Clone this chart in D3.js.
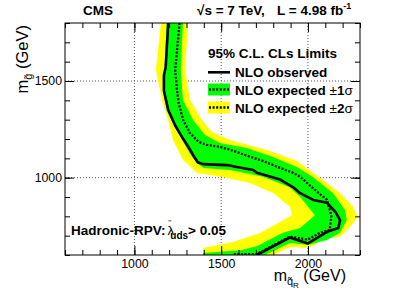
<!DOCTYPE html>
<html>
<head>
<meta charset="utf-8">
<script src="https://cdn.jsdelivr.net/npm/d3@7"></script>
<style>
  body { margin: 0; background: #fff; }
  text { font-family: "Liberation Sans", Arial, Helvetica, sans-serif; }
</style>
</head>
<body>
<script>
// axis ranges and ticks (GeV)
const xDomain = [600, 2300];
const yDomain = [600, 1800];
const xMajor = [1000, 1500, 2000];
const yMajor = [1000, 1500];

// observed limit (squark mass, gluino mass)
const obsSquark = [1195, 1180, 1170, 1170, 1195, 1235, 1275, 1310, 1340, 1365, 1395, 1535, 1590, 1685, 1705, 1840, 1915, 1955, 2030, 2110, 2160, 2185, 2175, 2110, 2000, 1895, 1705];
const obsGluino = [1800, 1570, 1530, 1450, 1350, 1270, 1210, 1160, 1115, 1080, 1070, 1065, 1055, 1040, 1025, 990, 950, 920, 885, 870, 820, 780, 740, 720, 660, 690, 600];

// expected limit
const expSquark = [1260, 1235, 1245, 1255, 1280, 1320, 1370, 1415, 1485, 1550, 1645, 1745, 1840, 1915, 1955, 2010, 2110, 2135, 2125, 2070, 2000, 1895, 1705, 1570];
const expGluino = [1800, 1555, 1455, 1385, 1300, 1230, 1185, 1170, 1160, 1145, 1115, 1085, 1050, 1025, 1005, 960, 885, 800, 730, 715, 680, 695, 605, 605];

// +-1 sigma band: outer edge top->bottom, inner edge bottom->top
const sig1OutSquark = [1280, 1267, 1280, 1338, 1407, 1493, 1649, 1799, 1937, 2028, 2144, 2213, 2224, 2184, 2109, 2000, 1897, 1753];
const sig1OutGluino = [1800, 1557, 1402, 1298, 1221, 1179, 1153, 1107, 1055, 1003, 921, 833, 781, 714, 678, 652, 662, 600];
const sig1InSquark = [1395, 1395, 1610, 1705, 1855, 1955, 2040, 1955, 1895, 1740, 1550, 1400, 1360, 1330, 1300, 1265, 1225, 1185, 1165, 1165, 1175, 1185];
const sig1InGluino = [600, 610, 625, 645, 715, 740, 805, 900, 950, 1005, 1040, 1050, 1075, 1110, 1155, 1210, 1275, 1350, 1450, 1530, 1570, 1800];

// +-2 sigma band
const sig2OutSquark = [1309, 1292, 1320, 1390, 1447, 1551, 1764, 1937, 2110, 2185, 2260, 2288, 2242, 2185, 2110, 2000, 1897, 1799];
const sig2OutGluino = [1800, 1557, 1402, 1298, 1236, 1195, 1143, 1086, 972, 921, 848, 797, 745, 693, 688, 636, 641, 600];
const sig2InSquark = [1395, 1395, 1568, 1724, 1839, 1908, 1897, 1799, 1666, 1511, 1361, 1280, 1222, 1194, 1159, 1124, 1153];
const sig2InGluino = [600, 636, 667, 714, 771, 807, 848, 921, 972, 1003, 1024, 1091, 1195, 1298, 1402, 1557, 1800];

const margin = { top: 23, right: 49, bottom: 39, left: 65 },
  width = 409 - margin.left - margin.right,
  height = 294 - margin.top - margin.bottom;

const svgRoot = d3.select("body").append("svg")
  .attr("width", 409)
  .attr("height", 294);

const svg = svgRoot.append("g")
  .attr("transform", `translate(${margin.left},${margin.top})`);

const x = d3.scaleLinear().domain(xDomain).range([0, width]);
const y = d3.scaleLinear().domain(yDomain).range([height, 0]);

svg.append("clipPath").attr("id", "frame")
  .append("rect").attr("width", width).attr("height", height);

// dotted grid at the major ticks
const grid = svg.append("g").attr("stroke", "#555").attr("stroke-dasharray", "1,2");
grid.selectAll(".gx").data(xMajor).enter().append("line")
  .attr("x1", d => x(d)).attr("x2", d => x(d))
  .attr("y1", 0).attr("y2", height);
grid.selectAll(".gy").data(yMajor).enter().append("line")
  .attr("y1", d => y(d)).attr("y2", d => y(d))
  .attr("x1", 0).attr("x2", width);

const zip = (a, b) => a.map((v, i) => [v, b[i]]);
const line = d3.line().x(d => x(d[0])).y(d => y(d[1]));

const plot = svg.append("g").attr("clip-path", "url(#frame)");

// bands
const band2 = zip(sig2OutSquark, sig2OutGluino).concat(zip(sig2InSquark, sig2InGluino));
const band1 = zip(sig1OutSquark, sig1OutGluino).concat(zip(sig1InSquark, sig1InGluino));
plot.append("path").attr("d", line(band2) + "Z").attr("fill", "#ffff00");
plot.append("path").attr("d", line(band1) + "Z").attr("fill", "#00ff00");

// expected and observed
plot.append("path").attr("d", line(zip(expSquark, expGluino)))
  .attr("fill", "none").attr("stroke", "#000")
  .attr("stroke-width", 2.3).attr("stroke-dasharray", "2,1.6");
plot.append("path").attr("d", line(zip(obsSquark, obsGluino)))
  .attr("fill", "none").attr("stroke", "#000")
  .attr("stroke-width", 2.6).attr("stroke-linejoin", "round");

// axes, ROOT style: ticks inside on all four sides
const minorX = d3.range(600, 2301, 100);
const minorY = d3.range(600, 1801, 100);
const fmt = d3.format("d");

function styleAxis(g) {
  g.select(".domain").remove();
  g.selectAll("line").attr("stroke", "#000");
  g.selectAll("text").attr("font-size", 12.3).attr("fill", "#000")
    .attr("font-family", '"Liberation Sans", Arial, sans-serif');
}

svg.append("g").attr("transform", `translate(0,${height})`)
  .call(d3.axisBottom(x).tickValues(xMajor).tickFormat(fmt).tickSize(-9).tickPadding(4.5)).call(styleAxis);
svg.append("g").attr("transform", `translate(0,${height})`)
  .call(d3.axisBottom(x).tickValues(minorX).tickSize(-5).tickFormat("")).call(styleAxis);
svg.append("g")
  .call(d3.axisTop(x).tickValues(xMajor).tickSize(-9).tickFormat("")).call(styleAxis);
svg.append("g")
  .call(d3.axisTop(x).tickValues(minorX).tickSize(-5).tickFormat("")).call(styleAxis);
svg.append("g")
  .call(d3.axisLeft(y).tickValues(yMajor).tickFormat(fmt).tickSize(-9).tickPadding(3)).call(styleAxis);
svg.append("g")
  .call(d3.axisLeft(y).tickValues(minorY).tickSize(-5).tickFormat("")).call(styleAxis);
svg.append("g").attr("transform", `translate(${width},0)`)
  .call(d3.axisRight(y).tickValues(yMajor).tickSize(-9).tickFormat("")).call(styleAxis);
svg.append("g").attr("transform", `translate(${width},0)`)
  .call(d3.axisRight(y).tickValues(minorY).tickSize(-5).tickFormat("")).call(styleAxis);

svg.append("rect").attr("width", width).attr("height", height)
  .attr("fill", "none").attr("stroke", "#000").attr("stroke-width", 1);

// axis titles
const yTitle = svgRoot.append("text")
  .attr("transform", "translate(28,25) rotate(-90)")
  .attr("text-anchor", "end").attr("font-size", 16.5);
yTitle.append("tspan").text("m");
yTitle.append("tspan").attr("font-size", 11).attr("dy", 4).text("g\u0303");
yTitle.append("tspan").attr("dy", -4).text(" (GeV)");

const xTitle = svgRoot.append("text")
  .attr("x", 346).attr("y", 281)
  .attr("text-anchor", "end").attr("font-size", 16);
xTitle.append("tspan").text("m");
xTitle.append("tspan").attr("font-size", 11).attr("dy", 4).text("q\u0303");
xTitle.append("tspan").attr("font-size", 8).attr("dy", 3).text("R");
xTitle.append("tspan").attr("dy", -7).text(" (GeV)");

// header
svgRoot.append("text").attr("x", 83).attr("y", 15)
  .attr("font-size", 13.5).attr("font-weight", "bold").text("CMS");
svgRoot.append("text").attr("x", 197).attr("y", 15)
  .attr("font-size", 13.5).attr("font-weight", "bold").text("\u221As = 7 TeV,");
const lumi = svgRoot.append("text").attr("x", 277).attr("y", 15)
  .attr("font-size", 13.5).attr("font-weight", "bold");
lumi.append("tspan").text("L = 4.98 fb");
lumi.append("tspan").attr("font-size", 9).attr("dy", -6).text("-1");

// legend
const legend = svgRoot.append("g").attr("font-size", 13.5).attr("font-weight", "bold");
legend.append("text").attr("x", 208).attr("y", 58.3).text("95% C.L. CLs Limits");

legend.append("line").attr("x1", 208).attr("x2", 230).attr("y1", 72.3).attr("y2", 72.3)
  .attr("stroke", "#000").attr("stroke-width", 2.6);
legend.append("text").attr("x", 235).attr("y", 76.7).text("NLO observed");

const legendBands = [
  { color: "#00ff00", n: "1", yb: 94.5 },
  { color: "#ffff00", n: "2", yb: 112.5 }
];
legendBands.forEach(b => {
  legend.append("rect").attr("x", 208).attr("y", b.yb - 11).attr("width", 22).attr("height", 12)
    .attr("fill", b.color);
  legend.append("line").attr("x1", 209).attr("x2", 230).attr("y1", b.yb - 5).attr("y2", b.yb - 5)
    .attr("stroke", "#000").attr("stroke-width", 2.3).attr("stroke-dasharray", "2,1.6");
  const t = legend.append("text").attr("x", 235).attr("y", b.yb);
  t.append("tspan").text("NLO expected ");
  t.append("tspan").attr("font-weight", "normal").text("\u00B1");
  t.append("tspan").text(b.n);
  t.append("tspan").attr("font-weight", "normal").text("\u03C3");
});

// model label
const model = svgRoot.append("text").attr("x", 71).attr("y", 235)
  .attr("font-size", 13.5).attr("font-weight", "bold");
model.append("tspan").text("Hadronic-RPV:");
model.append("tspan").attr("font-weight", "normal").attr("dx", 2).text("\u03BB");
model.append("tspan").attr("font-size", 8).attr("font-weight", "normal")
  .attr("dx", -6).attr("dy", -10).text("''");
model.append("tspan").attr("font-size", 10).attr("dx", -1).attr("dy", 14).text("uds");
model.append("tspan").attr("dy", -4).text("> 0.05");
</script>
</body>
</html>
